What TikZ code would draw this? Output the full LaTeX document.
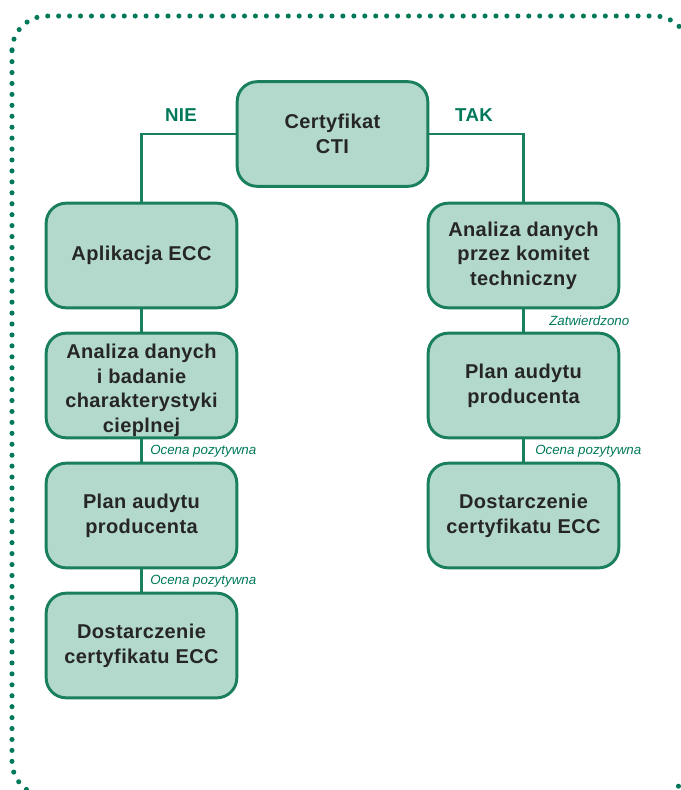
\documentclass[tikz,border=0pt]{standalone}
\usepackage{fontspec}
\setmainfont{Liberation Sans}
\newfontfamily\spacedfont[LetterSpace=2.0]{Liberation Sans}
\definecolor{dgreen}{HTML}{00785A}
\definecolor{bline}{HTML}{1A7F5E}
\definecolor{bfill}{HTML}{B3D9CC}
\definecolor{btext}{HTML}{262626}
\begin{document}
\begin{tikzpicture}[x=0.75pt,y=-0.75pt,
  box/.style={draw=bline,fill=bfill,line width=2.2pt,rounded corners=15pt,
    minimum width=143pt,minimum height=78.5pt,align=center,
    font=\spacedfont\fontsize{15}{18.5}\selectfont\bfseries,text=btext,inner sep=0pt},
  conn/.style={draw=bline,line width=2.2pt},
  branch/.style={font=\spacedfont\fontsize{14}{17}\selectfont\bfseries,text=dgreen},
  note/.style={font=\fontsize{10}{12}\selectfont\itshape,text=dgreen,anchor=west,inner sep=0pt}]
\useasboundingbox (0,0) rectangle (681,790);
\draw[dgreen,line width=3.8pt,line cap=round,dash pattern=on 0pt off 8.2pt,rounded corners=26pt]
  (12,16) rectangle (689,796);
\node[box] (cti) at (332.5,134) {Certyfikat\\CTI};
\node[box] (l1) at (141.5,255.5) {Aplikacja ECC};
\node[box] (l2) at (141.5,385.5) {\rule{0pt}{18pt}Analiza danych\\i badanie\\charakterystyki\\cieplnej};
\node[box] (l3) at (141.5,515.5) {Plan audytu\\producenta};
\node[box] (l4) at (141.5,645.5) {Dostarczenie\\certyfikatu ECC};
\node[box] (r1) at (523.5,255.5) {Analiza danych\\przez komitet\\techniczny};
\node[box] (r2) at (523.5,385.5) {Plan audytu\\producenta};
\node[box] (r3) at (523.5,515.5) {Dostarczenie\\certyfikatu ECC};
\draw[conn] (cti.west) -| (l1.north);
\draw[conn] (cti.east) -| (r1.north);
\draw[conn] (l1) -- (l2);
\draw[conn] (l2) -- (l3);
\draw[conn] (l3) -- (l4);
\draw[conn] (r1) -- (r2);
\draw[conn] (r2) -- (r3);
\node[branch] (nie) at (181,115) {NIE};
\node[branch] (tak) at (474,115) {TAK};
\node[note] (n1) at (150,451) {Ocena pozytywna};
\node[note] (n2) at (150,581) {Ocena pozytywna};
\node[note] (n3) at (549,321) {Zatwierdzono};
\node[note] (n4) at (535,451) {Ocena pozytywna};
\end{tikzpicture}
\end{document}
